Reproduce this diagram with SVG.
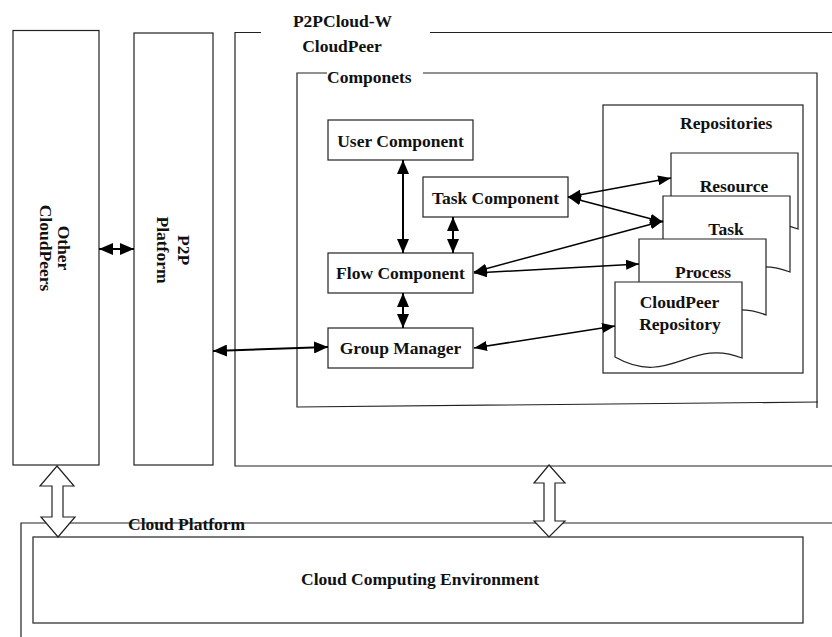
<svg xmlns="http://www.w3.org/2000/svg" width="832" height="637" viewBox="0 0 832 637">
  <style>
    .box { fill: #fff; stroke: #222; stroke-width: 1.2; }
    .frame { fill: none; stroke: #222; stroke-width: 1.2; }
    .doc { fill: #fff; stroke: #222; stroke-width: 1.2; }
    .t { font-family: "Liberation Serif", "Times New Roman", serif; font-weight: bold; font-size: 17.5px; fill: #111; }
    .c { text-anchor: middle; }
    .link { fill: none; stroke: #000; stroke-width: 2; marker-start: url(#ah); marker-end: url(#ah); }
    .thin { fill: none; stroke: #000; stroke-width: 1.5; marker-start: url(#ahs); marker-end: url(#ahs); }
    .block { fill: #fff; stroke: #222; stroke-width: 1.2; stroke-linejoin: miter; }
  </style>
  <defs>
    <marker id="ah" viewBox="0 0 14 12" refX="14" refY="6" markerWidth="14" markerHeight="12" orient="auto-start-reverse" markerUnits="userSpaceOnUse">
      <path d="M0,0 L14,6 L0,12 z" fill="#000"/>
    </marker>
    <marker id="ahs" viewBox="0 0 13 10" refX="13" refY="5" markerWidth="13" markerHeight="10" orient="auto-start-reverse" markerUnits="userSpaceOnUse">
      <path d="M0,0 L13,5 L0,10 z" fill="#000"/>
    </marker>
    <!-- document shape with wavy bottom, 127 wide -->
    <path id="docShape" d="M0,0 H127 V76 C75,55 55,106 0,75 Z"/>
  </defs>

  <rect width="832" height="637" fill="#fff"/>

  <!-- Other CloudPeers -->
  <g id="other-cloudpeers">
    <rect class="box" x="13" y="30.5" width="86" height="434.5"/>
    <text class="t" transform="translate(58,248) rotate(90)" text-anchor="middle" font-size="20">Other</text>
    <text class="t" transform="translate(40,248) rotate(90)" text-anchor="middle" font-size="16">CloudPeers</text>
  </g>

  <!-- P2P Platform -->
  <g id="p2p-platform">
    <rect class="box" x="134" y="33" width="79" height="432"/>
    <text class="t" transform="translate(178,250) rotate(90)" text-anchor="middle" font-size="20">P2P</text>
    <text class="t" transform="translate(157,250) rotate(90)" text-anchor="middle" font-size="20">Platform</text>
  </g>

  <!-- P2PCloud-W CloudPeer frame -->
  <g id="cloudpeer">
    <path class="frame" d="M261,32.5 H235 V466 H832"/>
    <path class="frame" d="M430,32.5 H832"/>
    <text class="t c" x="342.5" y="26.5">P2PCloud-W</text>
    <text class="t c" x="342" y="51.5">CloudPeer</text>
  </g>

  <!-- Componets frame -->
  <g id="componets">
    <path class="frame" d="M327,73 H297 V407 L818,402"/>
    <path class="frame" d="M423,73 H817 V408"/>
    <text class="t" x="327" y="83">Componets</text>
  </g>

  <g id="user-component">
    <rect class="box" x="328" y="120" width="145" height="40"/>
    <text class="t c" x="400.5" y="146.5">User Component</text>
  </g>

  <g id="task-component">
    <rect class="box" x="423" y="177" width="145" height="40"/>
    <text class="t c" x="495.5" y="204">Task Component</text>
  </g>

  <g id="flow-component">
    <rect class="box" x="328" y="253" width="145" height="40"/>
    <text class="t c" x="400.5" y="278.5">Flow Component</text>
  </g>

  <g id="group-manager">
    <rect class="box" x="328" y="328" width="145" height="40"/>
    <text class="t c" x="400.5" y="353.5">Group Manager</text>
  </g>

  <!-- Repositories -->
  <g id="repositories">
    <rect class="box" x="603" y="105" width="200" height="268"/>
    <text class="t" x="680" y="129">Repositories</text>
  </g>
  <g id="repo-resource">
    <use href="#docShape" class="doc" transform="translate(671,153)"/>
    <text class="t c" x="734" y="192">Resource</text>
  </g>
  <g id="repo-task">
    <use href="#docShape" class="doc" transform="translate(663,196)"/>
    <text class="t c" x="726" y="235">Task</text>
  </g>
  <g id="repo-process">
    <use href="#docShape" class="doc" transform="translate(639,239)"/>
    <text class="t c" x="703" y="278">Process</text>
  </g>
  <g id="repo-cloudpeer">
    <use href="#docShape" class="doc" transform="translate(615,282)"/>
    <text class="t c" x="679.5" y="308">CloudPeer</text>
    <text class="t c" x="680" y="330">Repository</text>
  </g>

  <!-- Cloud Platform -->
  <g id="cloud-platform">
    <path class="frame" d="M21,637 V523 H832"/>
    <text class="t" x="128" y="529.5">Cloud Platform</text>
  </g>
  <g id="cloud-computing-environment">
    <rect class="box" x="33" y="537" width="770" height="86"/>
    <text class="t c" x="420" y="585">Cloud Computing Environment</text>
  </g>

  <!-- Connectors -->
  <g id="connectors">
    <line class="link" x1="99" y1="249" x2="134" y2="249"/>
    <line class="link" x1="213" y1="351" x2="328" y2="347"/>
    <line class="link" x1="403" y1="160" x2="403" y2="253"/>
    <line class="link" x1="453" y1="217" x2="453" y2="253"/>
    <line class="link" x1="403" y1="293" x2="403" y2="328"/>
    <line class="thin" x1="568" y1="197" x2="671" y2="178"/>
    <line class="thin" x1="568" y1="197" x2="663" y2="222"/>
    <line class="thin" x1="474" y1="272" x2="663" y2="221"/>
    <line class="thin" x1="474" y1="273" x2="639" y2="264"/>
    <line class="thin" x1="474" y1="348" x2="615" y2="326"/>
    <!-- hollow double block arrows to the cloud platform -->
    <path class="block" d="M57,466 L74,486 H63 V517 H75 L58,537 L41,517 H52 V486 H40 Z"/>
    <path class="block" d="M549,465 L565,483 H555 V521 H565 L549,537 L534,521 H544 V483 H534 Z"/>
  </g>
</svg>
